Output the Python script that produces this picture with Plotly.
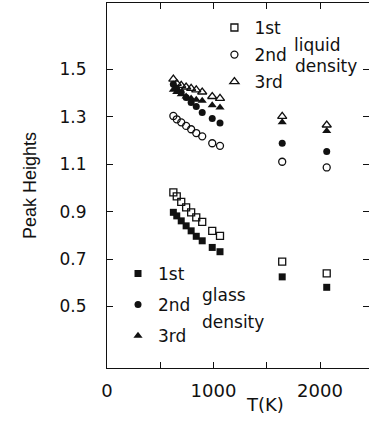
import plotly.graph_objects as go

# Temperatures (K)
T = [623, 655, 697, 743, 790, 838, 894, 988, 1061, 1645, 2063]

# Peak heights at liquid density (open symbols)
liquid_1st = [0.981, 0.964, 0.941, 0.918, 0.897, 0.876, 0.857, 0.819, 0.798, 0.689, 0.640]
liquid_2nd = [1.303, 1.289, 1.276, 1.261, 1.247, 1.231, 1.217, 1.188, 1.177, 1.110, 1.086]
liquid_3rd = [1.458, 1.440, 1.432, 1.425, 1.419, 1.413, 1.404, 1.385, 1.377, 1.301, 1.265]

# Peak heights at glass density (filled symbols)
glass_1st = [0.897, 0.882, 0.861, 0.840, 0.819, 0.796, 0.777, 0.749, 0.731, 0.625, 0.581]
glass_2nd = [1.437, 1.419, 1.402, 1.381, 1.360, 1.343, 1.318, 1.292, 1.273, 1.188, 1.153]
glass_3rd = [1.413, 1.404, 1.395, 1.385, 1.377, 1.371, 1.367, 1.348, 1.339, 1.276, 1.240]

peak_names = ["1st", "2nd", "3rd"]
y_ticks = [0.5, 0.7, 0.9, 1.1, 1.3, 1.5]
x_ticks = [0, 500, 1000, 1500, 2000]
x_ticktext = ["0", "", "1000", "", "2000"]

FONT = "DejaVu Sans"
INK = "#111111"

fig = go.Figure()

liquid = [liquid_1st, liquid_2nd, liquid_3rd]
glass = [glass_1st, glass_2nd, glass_3rd]
open_sym = ["square-open", "circle-open", "triangle-up-open"]
fill_sym = ["square", "circle", "triangle-up"]
sizes = [7, 7, 8]

for i in range(3):
    fig.add_trace(go.Scatter(
        x=T, y=liquid[i], mode="markers", name=peak_names[i],
        legend="legend", legendgroup="l%d" % i,
        marker=dict(symbol=open_sym[i], size=sizes[i], color=INK,
                    line=dict(width=1.3, color=INK)),
    ))
for i in range(3):
    fig.add_trace(go.Scatter(
        x=T, y=glass[i], mode="markers", name=peak_names[i],
        legend="legend2", legendgroup="g%d" % i,
        marker=dict(symbol=fill_sym[i], size=sizes[i], color=INK,
                    line=dict(width=0, color=INK)),
    ))

# invisible trace to carry the right-hand tick axis
fig.add_trace(go.Scatter(x=[None], y=[None], yaxis="y2", showlegend=False,
                         hoverinfo="skip"))

Y_RANGE = [0.241, 1.779]

fig.update_layout(
    width=369, height=432,
    margin=dict(l=107, r=0, t=3, b=64),
    paper_bgcolor="white", plot_bgcolor="white",
    font=dict(family=FONT, size=17, color=INK),
    xaxis=dict(
        range=[0, 2460], tickvals=x_ticks, ticktext=x_ticktext,
        ticks="inside", ticklen=6, tickwidth=1, tickcolor=INK,
        showline=True, linecolor=INK, linewidth=1, mirror="ticks",
        showgrid=False, zeroline=False, ticklabelstandoff=6,
        tickfont=dict(family=FONT, size=18, color=INK),
    ),
    yaxis=dict(
        range=Y_RANGE, tickvals=y_ticks, ticktext=["%.1f" % v for v in y_ticks],
        ticks="inside", ticklen=6, tickwidth=1, tickcolor=INK,
        showline=True, linecolor=INK, linewidth=1, mirror=False,
        showgrid=False, zeroline=False, ticklabelstandoff=16,
        tickfont=dict(family=FONT, size=17, color=INK),
        title=dict(text="Peak Heights", font=dict(family="Liberation Sans", size=18, color=INK), standoff=18),
    ),
    yaxis2=dict(
        range=Y_RANGE, overlaying="y", side="right", tickvals=y_ticks,
        ticks="inside", ticklen=6, tickwidth=1, tickcolor=INK,
        showticklabels=False, showline=False, showgrid=False, zeroline=False,
    ),
    legend=dict(
        x=0.41, y=0.981, xanchor="left", yanchor="top",
        bgcolor="rgba(0,0,0,0)", borderwidth=0, tracegroupgap=2,
        font=dict(family=FONT, size=17, color=INK),
    ),
    legend2=dict(
        x=0.042, y=0.307, xanchor="left", yanchor="top",
        bgcolor="rgba(0,0,0,0)", borderwidth=0, tracegroupgap=6,
        font=dict(family=FONT, size=17, color=INK),
    ),
    showlegend=True,
)

ann = [
    ("liquid", 0.706, 0.885, "left"),
    ("density", 0.710, 0.827, "left"),
    ("glass", 0.355, 0.200, "left"),
    ("density", 0.355, 0.126, "left"),
    ("T(K)", 0.603, -0.101, "center"),
]
for text, ax, ay, anc in ann:
    fig.add_annotation(text=text, x=ax, y=ay, xref="paper", yref="paper",
                       xanchor=anc, yanchor="middle", showarrow=False,
                       font=dict(family=FONT, size=17 if text != "T(K)" else 18, color=INK))

fig.write_html("out.html")
